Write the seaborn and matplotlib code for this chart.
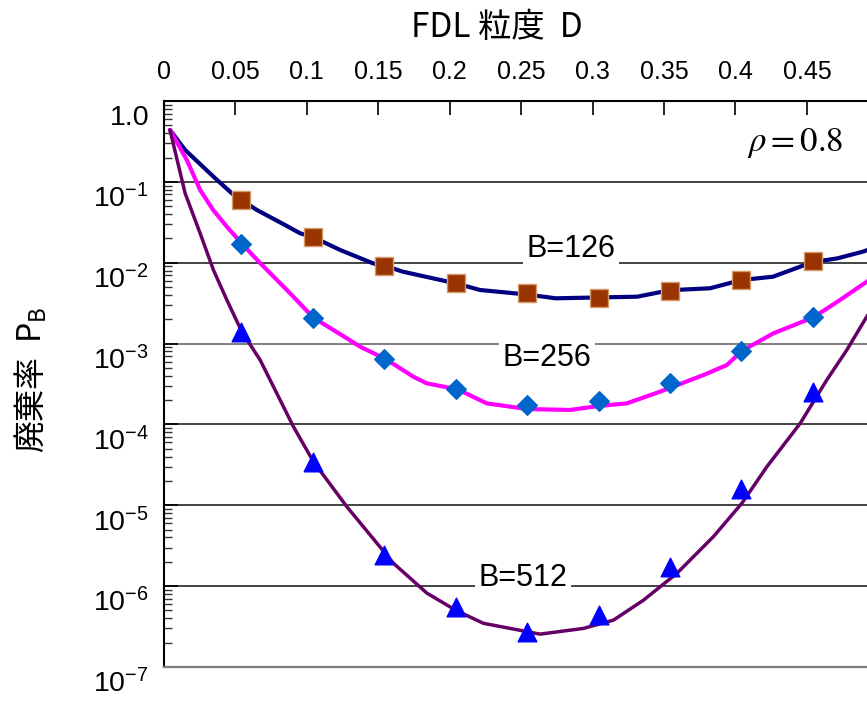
import matplotlib
matplotlib.use("Agg")
import matplotlib.pyplot as plt
import matplotlib.transforms as mtransforms
from matplotlib.ticker import LogLocator, NullFormatter, FixedLocator
import pandas as pd
import seaborn as sns

# ---------------- data ----------------
D_sim = [0.05, 0.10, 0.15, 0.20, 0.25, 0.30, 0.35, 0.40, 0.45, 0.50]
sim_126 = [0.0597, 0.021, 0.0091, 0.00556, 0.00426, 0.00369, 0.00451, 0.00611, 0.0106, 0.0174]
sim_256 = [0.0169, 0.0021, 0.000638, 0.000272, 0.000174, 0.000195, 0.000323, 0.000816, 0.00211, 0.0058]
sim_512 = [0.0014, 3.46e-5, 2.43e-6, 5.57e-7, 2.73e-7, 4.4e-7, 1.74e-6, 1.58e-5, 2.54e-4, 1.65e-3]

D_126 = [0.0, 0.0106, 0.0304, 0.0433, 0.05, 0.0608, 0.0806, 0.0911, 0.10, 0.119, 0.142,
         0.151, 0.163, 0.20, 0.217, 0.25, 0.27, 0.30, 0.327, 0.35, 0.378, 0.40, 0.422,
         0.45, 0.467, 0.485, 0.50]
P_126 = [0.438, 0.248, 0.116, 0.0721, 0.0597, 0.0449, 0.0292, 0.0231, 0.0208, 0.0144, 0.00984,
         0.0091, 0.00774, 0.00556, 0.0046, 0.00404, 0.00363, 0.00372, 0.0038, 0.00457, 0.00483,
         0.00611, 0.00671, 0.0102, 0.0113, 0.0137, 0.017]

D_256 = [0.0, 0.0118, 0.0211, 0.0302, 0.0398, 0.0507, 0.0631, 0.0818, 0.1004, 0.1238, 0.1331,
         0.1513, 0.1704, 0.1798, 0.2012, 0.2218, 0.25, 0.28, 0.30, 0.3197, 0.343, 0.3734,
         0.3898, 0.4005, 0.4224, 0.4504, 0.469, 0.4854, 0.50]
P_256 = [0.438, 0.186, 0.0793, 0.0449, 0.0279, 0.0169, 0.0099, 0.0046, 0.00209, 0.00116, 0.000915,
         0.000638, 0.000389, 0.000322, 0.000272, 0.000182, 0.000155, 0.000151, 0.000169, 0.000182,
         0.000254, 0.000408, 0.000543, 0.000816, 0.00134, 0.00211, 0.00346, 0.00546, 0.0081]

D_512 = [0.0, 0.0106, 0.0211, 0.0304, 0.0398, 0.0503, 0.0631, 0.0864, 0.1004, 0.1238, 0.1564,
         0.1798, 0.2003, 0.2194, 0.259, 0.2894, 0.3104, 0.3314, 0.3548, 0.3804, 0.4003,
         0.4178, 0.4411, 0.4597, 0.4737, 0.4877, 0.50]
P_512 = [0.438, 0.0721, 0.0231, 0.00813, 0.00346, 0.0014, 0.000626, 9.38e-5, 3.46e-5, 9.6e-6,
         1.92e-6, 8.2e-7, 5.0e-7, 3.47e-7, 2.55e-7, 3.0e-7, 3.8e-7, 6.7e-7, 1.44e-6, 4.1e-6,
         1.06e-5, 3.0e-5, 1.03e-4, 3.54e-4, 8.3e-4, 2.15e-3, 4.6e-3]

buffer_labels = ["B=126", "B=256", "B=512"]
x_tick_labels = ["0", "0.05", "0.1", "0.15", "0.2", "0.25", "0.3", "0.35", "0.4", "0.45", ""]
y_tick_values = [1.0, 1e-1, 1e-2, 1e-3, 1e-4, 1e-5, 1e-6, 1e-7]
y_tick_labels = ["1.0", r"$\mathregular{10^{-1}}$", r"$\mathregular{10^{-2}}$",
                 r"$\mathregular{10^{-3}}$", r"$\mathregular{10^{-4}}$",
                 r"$\mathregular{10^{-5}}$", r"$\mathregular{10^{-6}}$",
                 r"$\mathregular{10^{-7}}$"]

# ---------------- style ----------------
sns.set_theme(style="white")
plt.rcParams["font.family"] = ["Liberation Sans", "Noto Sans CJK JP", "DejaVu Sans"]
for key in ["text.color", "axes.labelcolor", "xtick.color", "ytick.color"]:
    plt.rcParams[key] = "black"

line_colors = {"B=126": "#000080", "B=256": "#ff00ff", "B=512": "#660066"}
line_widths = {"B=126": 3.0, "B=256": 3.0, "B=512": 2.5}
marker_face = {"B=126": "#993300", "B=256": "#0066cc", "B=512": "#0000ff"}
marker_edge = {"B=126": "#d49a6a", "B=256": "#0066cc", "B=512": "#0000ff"}
marker_shape = {"B=126": "s", "B=256": "D", "B=512": "^"}
marker_area = {"B=126": 165, "B=256": 100, "B=512": 180}

lines_df = pd.concat([
    pd.DataFrame({"D": D_126, "PB": P_126, "B": "B=126"}),
    pd.DataFrame({"D": D_256, "PB": P_256, "B": "B=256"}),
    pd.DataFrame({"D": D_512, "PB": P_512, "B": "B=512"}),
], ignore_index=True)
sim_df = pd.concat([
    pd.DataFrame({"D": D_sim, "PB": sim_126, "B": "B=126"}),
    pd.DataFrame({"D": D_sim, "PB": sim_256, "B": "B=256"}),
    pd.DataFrame({"D": D_sim, "PB": sim_512, "B": "B=512"}),
], ignore_index=True)

W, H = 867, 707
fig = plt.figure(figsize=(W / 100, H / 100), dpi=100)
ax_left, ax_top, ax_bottom = 164, 101, 667
ax_w = 728.6
ax = fig.add_axes([ax_left / W, 1 - ax_bottom / H, ax_w / W, (ax_bottom - ax_top) / H])

x0 = -0.0042
ax.set_yscale("log")

for b in buffer_labels:
    sub = lines_df[lines_df["B"] == b]
    sns.lineplot(data=sub, x="D", y="PB", ax=ax, color=line_colors[b], linewidth=line_widths[b],
                 estimator=None, sort=False, legend=False, zorder=4)
for b in buffer_labels:
    sub = sim_df[sim_df["B"] == b]
    sns.scatterplot(data=sub, x="D", y="PB", ax=ax, marker=marker_shape[b],
                    color=marker_face[b], edgecolor=marker_edge[b], linewidth=1.0,
                    s=marker_area[b], legend=False, zorder=5, clip_on=False)

ax.set_xlim(x0, x0 + 0.51)
ax.set_ylim(1e-7, 1.0)

# x ticks on top
ax.xaxis.tick_top()
ax.xaxis.set_major_locator(FixedLocator([x0 + 0.05 * k for k in range(11)]))
ax.set_xticklabels(x_tick_labels)
ax.tick_params(axis="x", which="major", direction="in", length=10, width=1.2,
               color="black", pad=12, labelsize=18, labelcolor="black", top=True, bottom=False)

# y ticks
ax.yaxis.set_major_locator(FixedLocator(y_tick_values))
ax.yaxis.set_minor_locator(LogLocator(base=10, subs=[2, 3, 4, 5, 6, 7, 8, 9], numticks=20))
ax.yaxis.set_major_formatter(NullFormatter())
ax.yaxis.set_minor_formatter(NullFormatter())
ax.tick_params(axis="y", which="major", direction="in", length=10, width=1.2, color="black",
               left=True, right=False)
ax.tick_params(axis="y", which="minor", direction="in", length=6, width=1.0, color="#333333",
               left=True, right=False)

ax.yaxis.grid(True, which="major", color="#111111", lw=1.1, zorder=1)
ax.xaxis.grid(False)
for gl, v in zip(ax.yaxis.get_gridlines(), y_tick_values):
    if abs(v - 1e-3) < 1e-9:
        gl.set_color("#7f7f7f")
        gl.set_linewidth(1.4)

# y tick labels (placed slightly below their decade lines)
ytrans = mtransforms.offset_copy(ax.get_yaxis_transform(), fig=fig, y=-17, units="dots")
for v, lab in zip(y_tick_values, y_tick_labels):
    ax.text(-15 / ax_w, v, lab, transform=ytrans, ha="right", va="center",
            fontsize=20.5, color="black", family=["Liberation Sans", "DejaVu Sans"], clip_on=False)

# spines
for side in ["left", "top"]:
    ax.spines[side].set_color("black")
    ax.spines[side].set_linewidth(1.5)
ax.spines["bottom"].set_color("#7f7f7f")
ax.spines["bottom"].set_linewidth(1.6)
ax.spines["right"].set_visible(False)

ax.set_xlabel("")
ax.set_ylabel("")

# curve labels with white boxes breaking the grid lines
box = dict(boxstyle="square,pad=0.12", facecolor="white", edgecolor="none")
label_pos = {"B=126": (0.5586, 0.7380), "B=256": (0.5261, 0.5452), "B=512": (0.4932, 0.1567)}
for b in buffer_labels:
    ax.text(label_pos[b][0], label_pos[b][1], b, transform=ax.transAxes, ha="center",
            va="center", fontsize=22, color="black", bbox=box, zorder=3,
            family=["Liberation Sans", "DejaVu Sans"])

ax.text(0.932, 0.926, r"$\rho = 0.8$", transform=ax.transAxes, ha="right", va="center",
        fontsize=25, math_fontfamily="stix", color="black", zorder=6)

# axis titles
fig.text(497 / W, 1 - 27 / H, "FDL 粒度  D", ha="center", va="center", fontsize=24,
         color="black", family=["Noto Sans CJK JP", "DejaVu Sans"])
fig.text(31 / W, 1 - 380 / H, "廃棄率  $\\mathregular{P_B}$", ha="center", va="center",
         rotation=90, fontsize=23, color="black", family=["Noto Sans CJK JP", "DejaVu Sans"])

fig.savefig("out.png", dpi=100)
